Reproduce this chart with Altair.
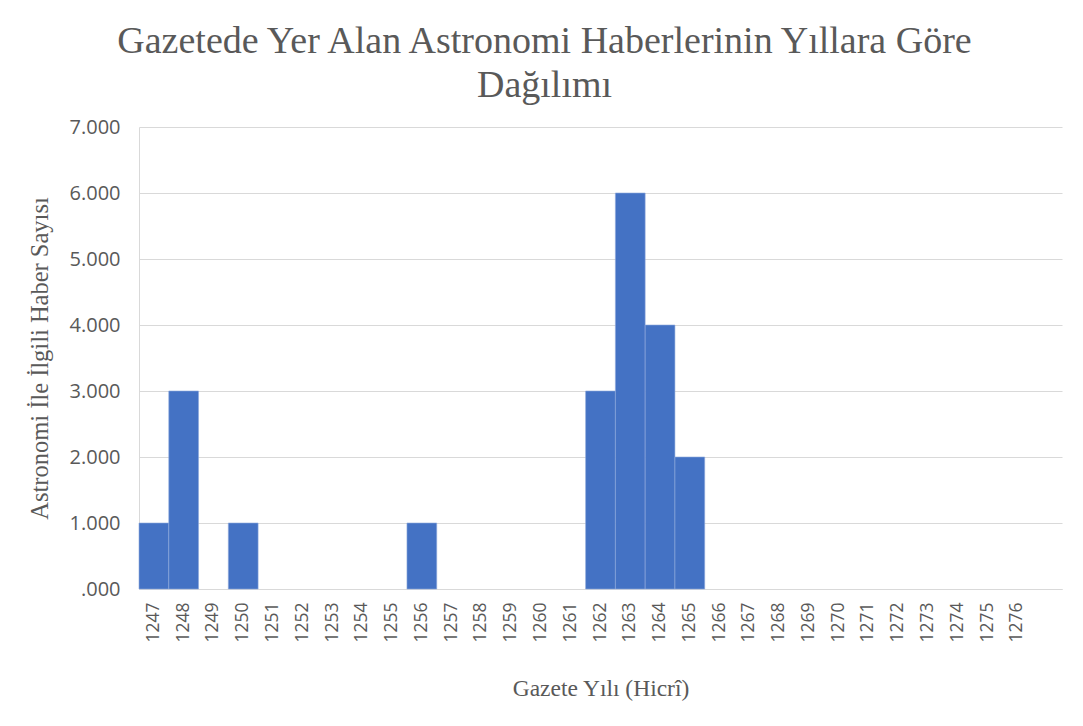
import altair as alt
import pandas as pd

years = [str(y) for y in range(1247, 1277)]
counts = [1, 3, 0, 1, 0, 0, 0, 0, 0, 1, 0, 0, 0, 0, 0, 3, 6, 4, 2, 0, 0, 0, 0, 0, 0, 0, 0, 0, 0, 0]
y_ticks = [0, 1, 2, 3, 4, 5, 6, 7]
title_lines = ["Gazetede Yer Alan Astronomi Haberlerinin Yıllara Göre", "Dağılımı"]
x_title = "Gazete Yılı (Hicrî)"
y_title = "Astronomi İle İlgili Haber Sayısı"

df = pd.DataFrame({"year": years, "count": counts})
domain = years + [" "]

serif = "Liberation Serif"
sans = "Open Sans"
gray = "#595959"

chart = (
    alt.Chart(df)
    .transform_filter("datum.count > 0")
    .mark_bar(color="#4472C4", stroke="#8EA9DB", strokeWidth=0.6)
    .encode(
        x=alt.X(
            "year:N",
            scale=alt.Scale(domain=domain, paddingInner=0, paddingOuter=0),
            sort=None,
            axis=alt.Axis(
                title=x_title,
                titleFont=serif,
                titleFontSize=23.5,
                titleFontWeight="normal",
                titleColor=gray,
                titlePadding=34,
                labelAngle=-90,
                labelFont=sans,
                labelFontSize=17.5,
                labelColor=gray,
                labelPadding=13,
                ticks=False,
                domainColor="#d9d9d9",
                domainWidth=1,
                grid=False,
            ),
        ),
        y=alt.Y(
            "count:Q",
            scale=alt.Scale(domain=[0, 7], nice=False),
            axis=alt.Axis(
                title=y_title,
                titleFont=serif,
                titleFontSize=24.5,
                titleFontWeight="normal",
                titleColor=gray,
                titlePadding=17,
                values=y_ticks,
                labelExpr="replace(format(datum.value, '.3f'), /^0/, '')",
                labelFont=sans,
                labelFontSize=20,
                labelColor=gray,
                labelPadding=19,
                ticks=False,
                domainColor="#d9d9d9",
                gridColor="#d9d9d9",
                gridWidth=1,
            ),
        ),
    )
    .properties(
        width=923,
        height=462,
        padding={"left": 19, "top": 15, "right": 8, "bottom": 8},
        title=alt.TitleParams(
            text=title_lines,
            font=serif,
            fontSize=38,
            fontWeight="normal",
            color=gray,
            lineHeight=44,
            anchor="middle",
            frame="bounds",
            offset=12,
        ),
    )
    .configure_view(stroke=None)
)

chart.save("out.html", embed_options={"renderer": "svg", "actions": False})
